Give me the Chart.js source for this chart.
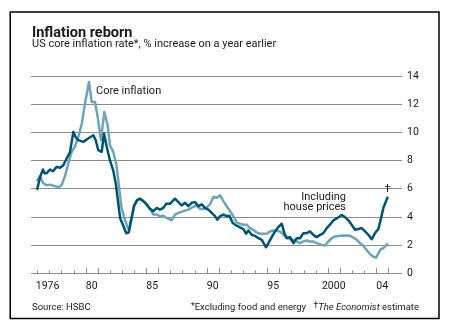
<!DOCTYPE html>
<html>
<head>
<meta charset="utf-8">
<script src="https://cdn.jsdelivr.net/npm/chart.js@4.4.1/dist/chart.umd.min.js"></script>
<style>
  html, body { margin: 0; padding: 0; background: #fff; }
  canvas { display: block; }
</style>
</head>
<body>
<canvas id="chart" width="450" height="330"></canvas>
<script>
// US core inflation, % increase on a year earlier (fractional years)
const houseYears = [
  1976.0, 1976.25, 1976.47, 1976.6, 1976.75, 1977.05, 1977.3, 1977.6, 1977.88, 1978.15,
  1978.35, 1978.7, 1978.98, 1979.17, 1979.39, 1979.8, 1980.2, 1980.63, 1980.83, 1981.04,
  1981.32, 1981.51, 1981.74, 1982.0, 1982.28, 1982.5, 1982.7, 1982.85, 1983.1, 1983.35,
  1983.55, 1983.75, 1984.0, 1984.25, 1984.49, 1984.77, 1985.04, 1985.32, 1985.59, 1985.87,
  1986.14, 1986.42, 1986.64, 1986.97, 1987.38, 1987.66, 1987.93, 1988.21, 1988.48, 1988.76,
  1989.04, 1989.31, 1989.59, 1989.86, 1990.14, 1990.41, 1990.69, 1990.88, 1991.1, 1991.38,
  1991.65, 1991.87, 1992.15, 1992.48, 1992.75, 1993.03, 1993.25, 1993.44, 1993.72, 1993.99,
  1994.27, 1994.55, 1994.74, 1994.9, 1995.1, 1995.37, 1995.65, 1995.92, 1996.2, 1996.42,
  1996.61, 1996.89, 1997.16, 1997.44, 1997.71, 1997.99, 1998.26, 1998.54, 1998.81, 1999.09,
  1999.37, 1999.64, 1999.92, 2000.19, 2000.47, 2000.8, 2001.16, 2001.43, 2001.71, 2001.98,
  2002.26, 2002.53, 2002.81, 2003.09, 2003.36, 2003.64, 2003.91, 2004.19, 2004.38, 2004.6,
  2004.93
];
const houseValues = [
  6.0, 6.9, 7.37, 7.1, 7.1, 7.37, 7.25, 7.56, 7.5, 7.68,
  8.03, 8.6, 10.04, 9.68, 9.45, 9.33, 9.57, 9.8, 9.45, 8.74,
  8.62, 9.92, 8.97, 8.03, 7.3, 6.3, 4.9, 3.9, 3.4, 2.85,
  2.9, 3.8, 4.8, 5.2, 5.3, 5.13, 4.9, 4.58, 4.42, 4.65,
  4.53, 4.65, 4.94, 4.94, 5.3, 5.06, 4.82, 5.01, 4.77, 5.01,
  5.06, 4.77, 4.9, 4.65, 4.53, 4.3, 4.06, 3.82, 4.06, 4.18,
  4.06, 4.1, 3.58, 3.39, 3.27, 3.15, 2.82, 3.05, 2.74, 2.67,
  2.5, 2.39, 2.1, 1.86, 2.15, 2.58, 2.98, 3.29, 3.53, 2.86,
  2.5, 2.58, 2.15, 2.5, 2.5, 2.86, 2.86, 2.98, 2.74, 2.58,
  2.74, 2.86, 3.22, 3.46, 3.77, 3.94, 4.15, 4.0, 3.77, 3.46,
  3.1, 3.15, 3.22, 2.98, 2.74, 2.43, 2.86, 3.15, 3.82, 4.65,
  5.37
];

const coreYears = [
  1976.0, 1976.22, 1976.5, 1976.78, 1977.05, 1977.46, 1977.74, 1978.0, 1978.29, 1978.56,
  1978.84, 1979.12, 1979.39, 1979.67, 1979.94, 1980.27, 1980.5, 1980.77, 1980.99, 1981.26,
  1981.54, 1981.82, 1982.0, 1982.28, 1982.56, 1982.75, 1982.95, 1983.2, 1983.45, 1983.6,
  1983.8, 1984.0, 1984.25, 1984.49, 1984.9, 1985.32, 1985.59, 1985.87, 1986.14, 1986.42,
  1986.69, 1987.1, 1987.38, 1987.66, 1988.07, 1988.48, 1988.9, 1989.17, 1989.45, 1989.86,
  1990.28, 1990.55, 1990.83, 1991.1, 1991.38, 1991.65, 1991.93, 1992.2, 1992.48, 1992.75,
  1993.03, 1993.3, 1993.58, 1993.85, 1994.13, 1994.41, 1994.68, 1994.96, 1995.23, 1995.5,
  1995.78, 1996.06, 1996.33, 1996.6, 1996.88, 1997.16, 1997.44, 1997.71, 1997.99, 1998.26,
  1998.54, 1998.81, 1999.09, 1999.5, 1999.78, 2000.05, 2000.33, 2000.6, 2001.02, 2001.43,
  2001.85, 2002.12, 2002.4, 2002.67, 2002.95, 2003.22, 2003.5, 2003.77, 2003.99, 2004.19,
  2004.38, 2004.6, 2004.93
];
const coreValues = [
  6.62, 6.9, 6.38, 6.26, 6.3, 6.19, 6.1, 6.26, 6.9, 7.8,
  8.62, 9.02, 9.68, 10.6, 12.04, 13.57, 12.16, 12.16, 11.1, 9.45,
  11.45, 10.5, 9.09, 8.62, 7.6, 6.2, 4.7, 3.9, 3.3, 3.05,
  3.9, 4.8, 5.2, 5.3, 5.01, 4.58, 4.18, 4.18, 4.06, 4.1,
  3.94, 3.77, 4.18, 4.3, 4.42, 4.53, 4.73, 4.82, 4.58, 4.58,
  4.9, 5.44, 5.37, 5.54, 5.13, 4.77, 4.42, 4.06, 3.63, 3.53,
  3.46, 3.46, 3.22, 3.1, 2.91, 2.82, 2.82, 2.82, 2.98, 3.05,
  3.03, 2.98, 2.74, 2.58, 2.43, 2.39, 2.27, 2.15, 2.27, 2.34,
  2.27, 2.27, 2.15, 2.03, 1.98, 2.27, 2.5, 2.63, 2.67, 2.7,
  2.67, 2.55, 2.39, 2.15, 1.96, 1.67, 1.38, 1.19, 1.12, 1.43,
  1.72, 1.79, 2.08
];

const yTickValues = [0, 2, 4, 6, 8, 10, 12, 14];
const xLabelYears = [1976, 1980, 1985, 1990, 1995, 2000, 2004];
const xLabelTexts = ['1976', '80', '85', '90', '95', '2000', '04'];
const firstTickYear = 1976;
const lastTickYear = 2005;
const emphasisedYears = [1980, 1981, 1985, 1986, 1990, 1991, 1995, 1996, 2000, 2001, 2004, 2005];

const DARK = '#005472';
const LIGHT = '#6fa3b8';
const GRID = '#8c8c8c';
const INK = '#1a1a1a';
const FONT = 'Roboto';

function font(size, weight, style) {
  return `${style || 'normal'} ${weight || 'normal'} ${size}px ${FONT}`;
}

// draw a run of differently styled text pieces, starting at x (or ending at x if alignRight)
function drawRuns(ctx, runs, x, y, alignRight) {
  let total = 0;
  runs.forEach(r => { ctx.font = r.font; r.w = ctx.measureText(r.text).width; total += r.w; });
  let cx = alignRight ? x - total : x;
  runs.forEach(r => {
    ctx.font = r.font;
    ctx.fillText(r.text, cx, y + (r.dy || 0));
    cx += r.w;
  });
}

const decorations = {
  id: 'decorations',
  beforeDatasetsDraw(chart) {
    const { ctx, scales: { x, y } } = chart;
    ctx.save();
    // year tick marks rising from the zero line
    const base = Math.round(y.getPixelForValue(0)) - 0.5;
    ctx.strokeStyle = GRID;
    ctx.lineWidth = 1;
    for (let yr = firstTickYear; yr <= lastTickYear; yr++) {
      const px = Math.round(x.getPixelForValue(yr)) + 0.5;
      const len = emphasisedYears.includes(yr) ? 5.5 : 3;
      ctx.beginPath();
      ctx.moveTo(px, base);
      ctx.lineTo(px, base - len);
      ctx.stroke();
    }
    ctx.restore();
  },
  afterDraw(chart) {
    const { ctx, scales: { x, y } } = chart;
    ctx.save();
    ctx.fillStyle = INK;
    ctx.textBaseline = 'alphabetic';
    ctx.textAlign = 'left';

    // heading
    ctx.font = font(14.5, 'bold');
    ctx.fillText('Inflation reborn', 32, 37);
    ctx.font = font(11);
    ctx.fillText('US core inflation rate*, % increase on a year earlier', 32, 47);

    // series labels
    ctx.font = font(11);
    ctx.textBaseline = 'middle';
    ctx.fillText('Core inflation', x.getPixelForValue(1980.85), y.getPixelForValue(12.92));
    ctx.textAlign = 'right';
    ctx.fillText('Including', x.getPixelForValue(2001.51), y.getPixelForValue(5.41));
    ctx.fillText('house prices', x.getPixelForValue(2001.51), y.getPixelForValue(4.67));
    ctx.textAlign = 'center';
    ctx.fillText('\u2020', x.getPixelForValue(2004.95), y.getPixelForValue(5.95));

    // footnotes
    ctx.textAlign = 'left';
    ctx.textBaseline = 'alphabetic';
    ctx.font = font(9.5);
    ctx.fillText('Source: HSBC', 32, 310);
    drawRuns(ctx, [
      { text: '*', font: font(8.5), dy: -1 },
      { text: 'Excluding food and energy', font: font(9.5) }
    ], 191, 310, false);
    drawRuns(ctx, [
      { text: '\u2020', font: font(8.5), dy: -2 },
      { text: 'The Economist', font: font(9.5, 'normal', 'italic') },
      { text: ' estimate', font: font(9.5) }
    ], 419, 310, true);

    // frame
    ctx.strokeStyle = '#000';
    ctx.lineWidth = 1.5;
    ctx.strokeRect(10.25, 12, 428.75, 306.5);
    ctx.restore();
  }
};

const toPoints = (xs, ys) => xs.map((v, i) => ({ x: v, y: ys[i] }));

new Chart(document.getElementById('chart'), {
  type: 'line',
  data: {
    datasets: [
      {
        label: 'Including house prices',
        data: toPoints(houseYears, houseValues),
        borderColor: DARK,
        borderWidth: 2.5,
        pointRadius: 0,
        tension: 0,
        borderJoinStyle: 'round',
        borderCapStyle: 'round'
      },
      {
        label: 'Core inflation',
        data: toPoints(coreYears, coreValues),
        borderColor: LIGHT,
        borderWidth: 2.5,
        pointRadius: 0,
        tension: 0,
        borderJoinStyle: 'round',
        borderCapStyle: 'round'
      }
    ]
  },
  options: {
    responsive: false,
    animation: false,
    devicePixelRatio: 1,
    layout: { padding: { left: 31, top: 76, right: 0, bottom: 0 } },
    plugins: { legend: { display: false }, tooltip: { enabled: false } },
    scales: {
      x: {
        type: 'linear',
        min: 1975.48,
        max: 2006.14,
        grid: { display: false, drawTicks: false },
        border: { display: false },
        afterBuildTicks(scale) {
          // labels sit in the middle of their year; the first one starts at the series
          scale.ticks = xLabelYears.map((yr, i) => ({ value: yr + (i === 0 ? 0.85 : 0.5) }));
        },
        afterFit(scale) { scale.height = 56.5; },
        ticks: {
          autoSkip: false,
          maxRotation: 0,
          padding: 7,
          color: INK,
          font: { family: FONT, size: 10.5 },
          callback: (value, index) => xLabelTexts[index]
        }
      },
      y: {
        position: 'right',
        min: 0,
        max: 14,
        afterBuildTicks(scale) { scale.ticks = yTickValues.map(v => ({ value: v })); },
        afterFit(scale) { scale.width = 48; },
        grid: { color: GRID, lineWidth: 1, drawTicks: false },
        border: { display: false },
        ticks: {
          padding: 5,
          color: INK,
          font: { family: FONT, size: 10.5 }
        }
      }
    }
  },
  plugins: [decorations]
});
</script>
</body>
</html>
